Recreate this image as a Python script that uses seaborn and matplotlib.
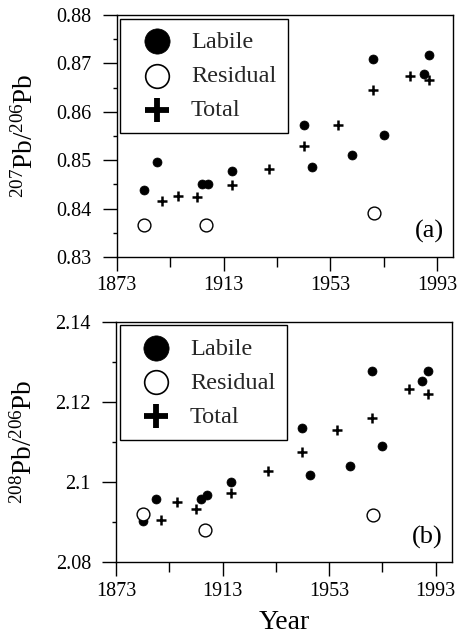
import matplotlib
matplotlib.use("Agg")
import matplotlib.pyplot as plt
import seaborn as sns
from matplotlib.ticker import FixedLocator

# --- data ---
labile_years = [1883, 1888, 1905, 1907, 1916, 1943, 1946, 1961, 1969, 1973, 1988, 1990]
labile_207 = [0.8438, 0.8497, 0.8450, 0.8451, 0.8477, 0.8572, 0.8485, 0.8510, 0.8709, 0.8552, 0.8678, 0.8717]
labile_208 = [2.0902, 2.0959, 2.0958, 2.0968, 2.1000, 2.1134, 2.1018, 2.1041, 2.1278, 2.1091, 2.1251, 2.1276]

residual_years = [1883, 1906.5, 1969.5]
residual_207 = [0.8366, 0.8366, 0.8390]
residual_208 = [2.0921, 2.0881, 2.0919]

total_years = [1890, 1896, 1903, 1916, 1930, 1943, 1956, 1969, 1983, 1990]
total_207 = [0.8416, 0.8426, 0.8424, 0.8448, 0.8481, 0.8530, 0.8572, 0.8646, 0.8674, 0.8666]
total_208 = [2.0905, 2.0950, 2.0933, 2.0974, 2.1027, 2.1074, 2.1129, 2.1159, 2.1232, 2.1220]

year_ticks = [1873, 1913, 1953, 1993]
year_minor = [1893, 1933, 1973]
ticks_207 = [0.83, 0.84, 0.85, 0.86, 0.87, 0.88]
labels_207 = ["0.83", "0.84", "0.85", "0.86", "0.87", "0.88"]
ticks_208 = [2.08, 2.10, 2.12, 2.14]
labels_208 = ["2.08", "2.1", "2.12", "2.14"]

sns.set_style("ticks")
plt.rcParams["font.family"] = ["Liberation Serif", "DejaVu Serif"]
plt.rcParams["mathtext.fontset"] = "custom"
plt.rcParams["mathtext.rm"] = "Liberation Serif"
plt.rcParams["mathtext.it"] = "Liberation Serif:italic"

fig = plt.figure(figsize=(4.6, 6.34), dpi=100)
ax1 = fig.add_axes([0.254, 0.5946, 0.731, 0.3817])
ax2 = fig.add_axes([0.252, 0.1131, 0.730, 0.3795])


def draw_panel(ax, y_lab, y_res, y_tot, yticks, ylabels, ylim, ylabel, tag, tag_y):
    sns.scatterplot(x=labile_years, y=y_lab, ax=ax, marker="o", s=42, color="black",
                    edgecolor="black", linewidth=0.5, label="Labile", zorder=3)
    sns.scatterplot(x=residual_years, y=y_res, ax=ax, marker="o", s=85, facecolor="white",
                    edgecolor="black", linewidth=1.0, label="Residual", zorder=3)
    sns.scatterplot(x=total_years, y=y_tot, ax=ax, marker="+", s=45, color="black",
                    linewidth=1.8, label="Total", zorder=3)

    ax.set_xlim(1873, 1999)
    ax.set_ylim(*ylim)
    ax.set_xticks(year_ticks)
    ax.set_xticklabels([str(y) for y in year_ticks])
    ax.xaxis.set_minor_locator(FixedLocator(year_minor))
    ax.set_yticks(yticks)
    ax.set_yticklabels(ylabels)
    half = (yticks[1] - yticks[0]) / 2
    ax.yaxis.set_minor_locator(FixedLocator([t + half for t in yticks[:-1]]))

    ax.tick_params(axis="both", which="major", direction="out", length=10, width=1,
                   labelsize=14.5, color="black", labelcolor="black")
    ax.tick_params(axis="y", which="major", pad=8)
    ax.tick_params(axis="x", which="major", pad=4)
    ax.tick_params(axis="x", which="minor", direction="out", length=7, width=1, color="black")
    ax.tick_params(axis="y", which="minor", direction="out", length=3, width=1, color="black")
    for sp in ax.spines.values():
        sp.set_visible(True)
        sp.set_color("black")
        sp.set_linewidth(1.0)

    ax.set_ylabel(ylabel, fontsize=19.5, color="black")
    ax.yaxis.set_label_coords(-0.232, 0.5)
    ax.text(0.973, tag_y, tag, transform=ax.transAxes, ha="right", va="bottom",
            fontsize=19, color="black")

    leg = ax.legend(loc="upper left", fontsize=17.5, frameon=True, fancybox=False,
                    framealpha=1, edgecolor="black", borderaxespad=0.15,
                    handletextpad=0.4, handlelength=2.0, labelspacing=0.5,
                    borderpad=0.5)
    leg.get_frame().set_linewidth(1.0)
    hs = leg.legend_handles
    hs[0].set_sizes([330])
    hs[1].set_sizes([290])
    hs[1].set_linewidths([1.2])
    hs[2].set_sizes([300])
    hs[2].set_linewidths([4.2])


draw_panel(ax1, labile_207, residual_207, total_207, ticks_207, labels_207,
           (0.83, 0.88), r"$^{\mathrm{207}}$Pb/$^{\mathrm{206}}$Pb", "(a)", 0.06)
draw_panel(ax2, labile_208, residual_208, total_208, ticks_208, labels_208,
           (2.08, 2.14), r"$^{\mathrm{208}}$Pb/$^{\mathrm{206}}$Pb", "(b)", 0.055)

ax1.set_xlabel("")
ax2.set_xlabel("Year", fontsize=20, color="black")
ax2.xaxis.set_label_coords(0.5, -0.20)

fig.savefig("out.png", dpi=100, facecolor="white")
